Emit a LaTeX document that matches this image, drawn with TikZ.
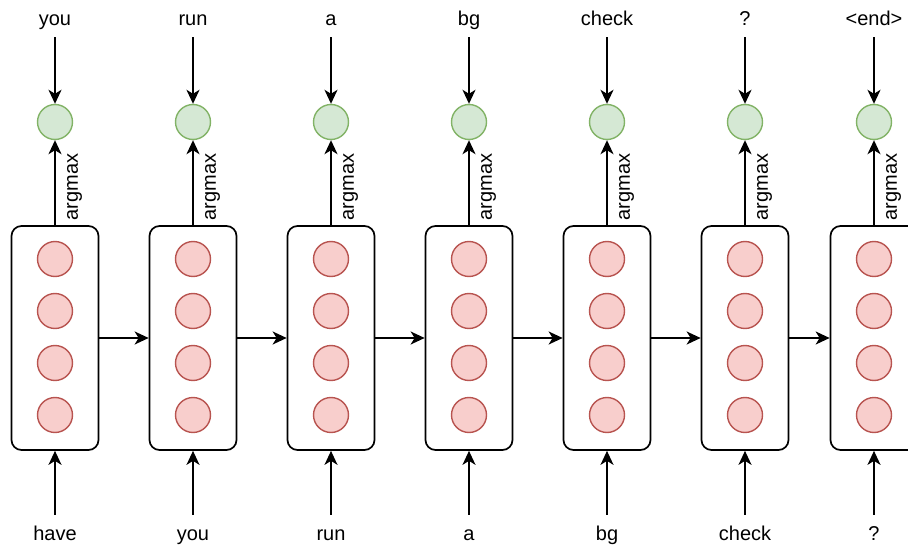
\documentclass[tikz,border=0pt]{standalone}
\usepackage{fontspec}
\setmainfont{Liberation Sans}
\usetikzlibrary{arrows.meta}
\definecolor{redfill}{HTML}{F8CECC}
\definecolor{redline}{HTML}{B85450}
\definecolor{greenfill}{HTML}{D5E8D4}
\definecolor{greenline}{HTML}{82B366}
\begin{document}
\begin{tikzpicture}[x=1pt,y=-1pt,
  font=\fontsize{20pt}{24pt}\selectfont,
  cell/.style={draw=black,line width=1.7pt,rounded corners=10pt,minimum width=87pt,minimum height=224pt,inner sep=0pt},
  redc/.style={circle,draw=redline,fill=redfill,line width=1.4pt,minimum size=35pt,inner sep=0pt},
  greenc/.style={circle,draw=greenline,fill=greenfill,line width=1.4pt,minimum size=35pt,inner sep=0pt},
  lbl/.style={inner sep=0pt,text height=14pt,text depth=4pt},
  arr/.style={line width=1.7pt,-{Stealth[length=14pt,width=13pt,inset=4pt]}},
  amx/.style={rotate=90,anchor=north,inner sep=0pt}]
\useasboundingbox (0,0) rectangle (908,548);
\clip (0,0) rectangle (908,548);
\foreach \i/\x/\tp/\bt in {1/55/you/have,2/193/run/you,3/331/a/run,4/469/bg/a,5/607/check/bg,6/745/?/check,7/874/<end>/?}{
  \node[cell] (box\i) at (\x,338) {};
  \node[redc] (r\i a) at (\x,259) {};
  \node[redc] (r\i b) at (\x,311) {};
  \node[redc] (r\i c) at (\x,363) {};
  \node[redc] (r\i d) at (\x,415) {};
  \node[greenc] (g\i) at (\x,122) {};
  \node[lbl] (t\i) at (\x,21) {\tp};
  \node[lbl] (b\i) at (\x,535) {\bt};
  \draw[arr,shorten <=7pt] (t\i.south) -- (g\i.north);
  \draw[arr] (box\i.north) -- (g\i.south);
  \node[amx] (lab\i) at (\x+12,187) {argmax};
  \draw[arr,shorten <=11pt] (b\i.north) -- (box\i.south);
}
\foreach \i [evaluate=\i as \j using int(\i+1)] in {1,...,6}{
  \draw[arr] (box\i.east) -- (box\j.west);
}
\end{tikzpicture}
\end{document}
